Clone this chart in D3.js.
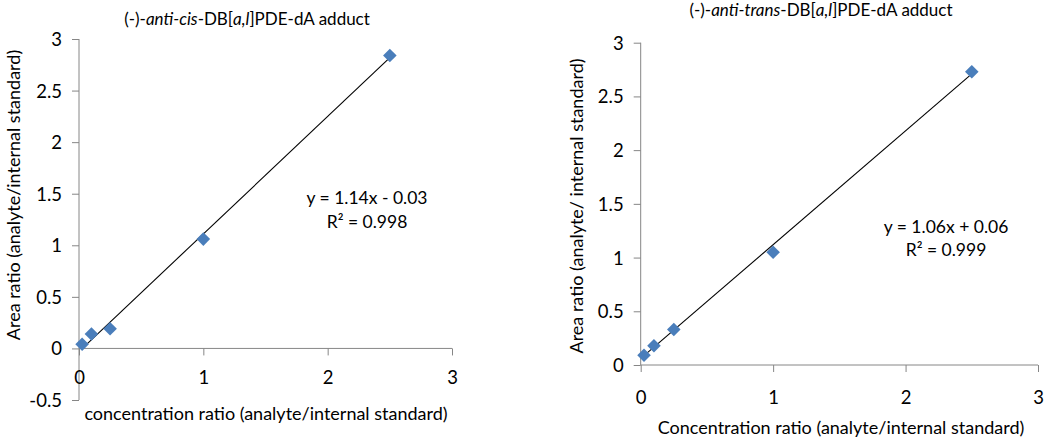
<!DOCTYPE html>
<html>
<head>
<meta charset="utf-8">
<script src="https://cdn.jsdelivr.net/npm/d3@7"></script>
<style>
  html, body { margin: 0; padding: 0; background: #fff; }
  svg { display: block; }
  text { font-family: Lato, "Open Sans", "Liberation Sans", sans-serif; fill: #000; }
</style>
</head>
<body>
<svg id="chart" width="1050" height="439"></svg>
<script>
// ---- data ----
const concCis = [0.025, 0.1, 0.25, 1, 2.5];
const areaCis = [0.04, 0.14, 0.19, 1.06, 2.84];
const fitCis = [1.14, -0.03];          // slope, intercept
const eqCis = ["y = 1.14x - 0.03", "R² = 0.998"];

const concTrans = [0.025, 0.1, 0.25, 1, 2.5];
const areaTrans = [0.09, 0.18, 0.33, 1.05, 2.73];
const fitTrans = [1.06, 0.06];
const eqTrans = ["y = 1.06x + 0.06", "R² = 0.999"];

const xTicksCis = [0, 1, 2, 3];
const yTicksCis = [-0.5, 0, 0.5, 1, 1.5, 2, 2.5, 3];
const xTicksTrans = [0, 1, 2, 3];
const yTicksTrans = [0, 0.5, 1, 1.5, 2, 2.5, 3];

const titleCis = [["(-)-", false], ["anti-cis", true], ["-DB[", false], ["a,l", true], ["]PDE-dA adduct", false]];
const titleTrans = [["(-)-", false], ["anti-trans", true], ["-DB[", false], ["a,l", true], ["]PDE-dA adduct", false]];
const xTitleCis = "concentration ratio (analyte/internal standard)";
const yTitleCis = "Area ratio (analyte/internal standard)";
const xTitleTrans = "Concentration ratio (analyte/internal standard)";
const yTitleTrans = "Area ratio (analyte/ internal standard)";

// ---- layout ----
const AXIS = "#868686";
const MARK = "#4A7EBB";
const FS_TICK = 18.5, FS_TITLE = 17, FS_AX = 18, FS_EQ = 17.5;
const svg = d3.select("#chart");
const fmt = d => String(d);   // keeps the ASCII hyphen for "-0.5"

const panels = [
  { conc: concCis, area: areaCis, fit: fitCis, eq: eqCis, xt: xTicksCis, yt: yTicksCis,
    title: titleCis, xTitle: xTitleCis, yTitle: yTitleCis,
    xr: [79, 452], yr: [400, 39], xd: [0, 3], yd: [-0.5, 3],
    titleX: 247, titleY: 25, xLabY: 384, xTitleX: 266, xTitleY: 420, yTitleX: 20, yTitleY: 195,
    eqX: 367, eqY: [204, 228] },
  { conc: concTrans, area: areaTrans, fit: fitTrans, eq: eqTrans, xt: xTicksTrans, yt: yTicksTrans,
    title: titleTrans, xTitle: xTitleTrans, yTitle: yTitleTrans,
    xr: [640.7, 1038], yr: [365, 42.7], xd: [0, 3], yd: [0, 3],
    titleX: 821, titleY: 16, xLabY: 404, xTitleX: 841, xTitleY: 434, yTitleX: 583, yTitleY: 206,
    eqX: 946, eqY: [233, 256] }
];

panels.forEach(p => {
  const g = svg.append("g");
  const x = d3.scaleLinear().domain(p.xd).range(p.xr);
  const y = d3.scaleLinear().domain(p.yd).range(p.yr);

  const yAxis = g.append("g").attr("transform", `translate(${x(0)},0)`)
    .call(d3.axisLeft(y).tickValues(p.yt).tickSize(7).tickPadding(10).tickFormat(fmt));
  const xAxis = g.append("g").attr("transform", `translate(0,${y(0)})`)
    .call(d3.axisBottom(x).tickValues(p.xt).tickSize(7).tickPadding(0).tickFormat(fmt));

  [yAxis, xAxis].forEach(a => {
    a.attr("font-family", null);
    a.selectAll("path.domain").attr("stroke", AXIS).attr("stroke-width", 1);
    a.selectAll(".tick line").attr("stroke", AXIS).attr("stroke-width", 1);
    a.selectAll("text").attr("font-size", FS_TICK).attr("fill", "#000");
  });
  yAxis.selectAll("text").attr("dy", "0.35em");
  xAxis.selectAll("text").attr("dy", null).attr("y", p.xLabY - y(0));
  yAxis.select("path.domain").attr("d", `M0,${p.yr[0]}V${p.yr[1]}`);
  xAxis.select("path.domain").attr("d", `M${p.xr[0]},0H${p.xr[1]}`);

  // trend line
  const x0 = d3.min(p.conc), x1 = d3.max(p.conc);
  const f = v => p.fit[0] * v + p.fit[1];
  g.append("line")
    .attr("x1", x(x0)).attr("y1", y(f(x0)))
    .attr("x2", x(x1)).attr("y2", y(f(x1)))
    .attr("stroke", "#000").attr("stroke-width", 1.1);

  // markers (diamonds)
  const sym = d3.symbol().type(d3.symbolSquare).size(92);
  g.selectAll("path.pt").data(p.conc.map((c, i) => [c, p.area[i]])).join("path")
    .attr("class", "pt")
    .attr("d", sym)
    .attr("transform", d => `translate(${x(d[0])},${y(d[1])}) rotate(45)`)
    .attr("fill", MARK);

  // title
  const t = g.append("text").attr("x", p.titleX).attr("y", p.titleY)
    .attr("text-anchor", "middle").attr("font-size", FS_TITLE);
  p.title.forEach(([s, it]) => t.append("tspan").text(s).attr("font-style", it ? "italic" : "normal"));

  // axis titles
  g.append("text").attr("x", p.xTitleX).attr("y", p.xTitleY)
    .attr("text-anchor", "middle").attr("font-size", FS_AX).text(p.xTitle);
  g.append("text")
    .attr("transform", `translate(${p.yTitleX},${p.yTitleY}) rotate(-90)`)
    .attr("text-anchor", "middle").attr("font-size", FS_AX).text(p.yTitle);

  // equation
  p.eq.forEach((s, i) => g.append("text").attr("x", p.eqX).attr("y", p.eqY[i])
    .attr("text-anchor", "middle").attr("font-size", FS_EQ).text(s));
});
</script>
</body>
</html>
